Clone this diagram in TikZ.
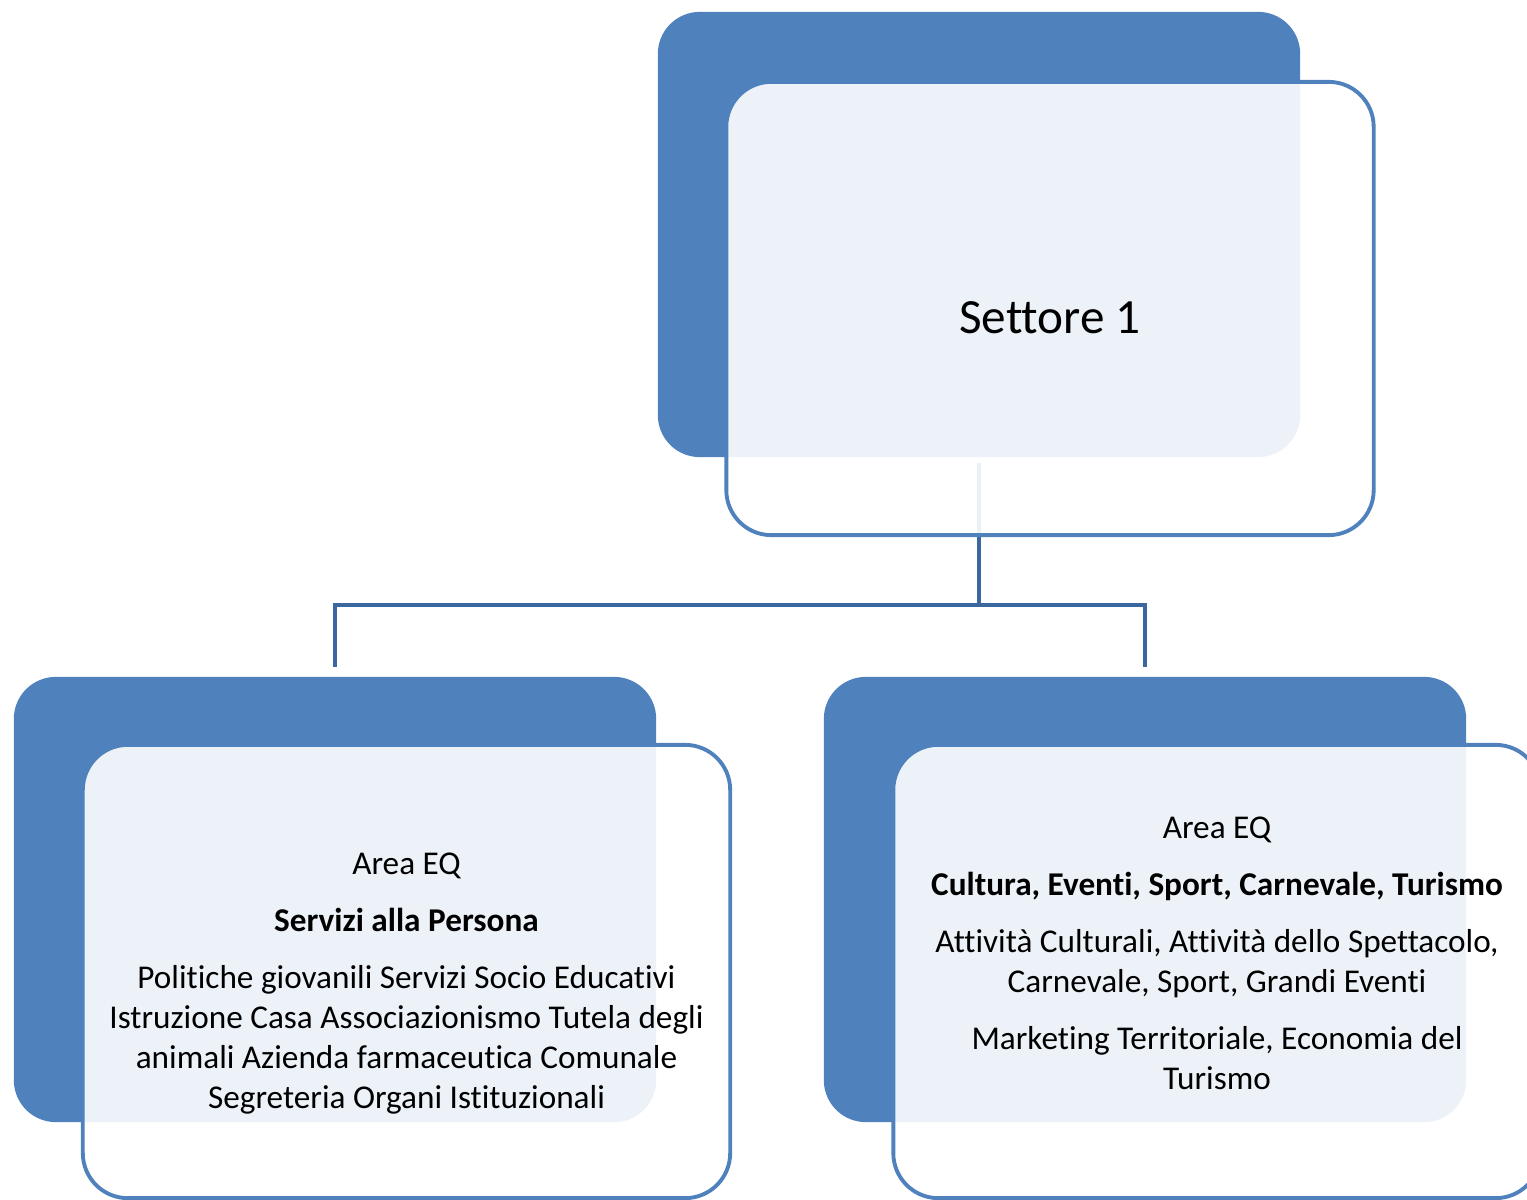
\documentclass[tikz,border=0pt]{standalone}
\usepackage{fontspec}
\setmainfont{Carlito}[Ligatures={NoCommon}]
\usepackage{xcolor}
\usetikzlibrary{positioning}
\definecolor{accblue}{HTML}{4F81BD}
\definecolor{linkblue}{HTML}{3C679E}
\tikzset{
  backbox/.style={rectangle, rounded corners=0.42cm, fill=accblue, inner sep=0pt,
                  minimum width=6.42cm, minimum height=4.45cm},
  frontbox/.style={rectangle, rounded corners=0.45cm, draw=accblue, line width=1.1pt,
                   fill=white, fill opacity=0.9, inner sep=0pt,
                   minimum width=6.47cm, minimum height=4.53cm},
  title/.style={font=\fontsize{14}{17}\selectfont, inner sep=0pt},
  body/.style={font=\fontsize{9.45}{11.4}\selectfont, align=center, inner sep=0pt},
  conn/.style={draw=linkblue, line width=1.1pt},
}

\begin{document}
\begin{tikzpicture}[x=0.01cm, y=-0.01cm]
\clip (0,0) rectangle (1527,1200);
% back boxes
\node[backbox] (setb) at (979,234.5) {};
\node[backbox] (lb) at (335,899.5) {};
\node[backbox] (rb) at (1145,899.5) {};
% tree connector
\coordinate (split) at (979,605);
\draw[conn] ([yshift=-0.05cm]setb.south) -- (split);
\draw[conn] (split) -| ([yshift=0.09cm]lb.north);
\draw[conn] (split) -| ([yshift=0.09cm]rb.north);
% front boxes
\node[frontbox] (setf) at (1050,308.5) {};
\node[frontbox] (lf) at (406.5,971.5) {};
\node[frontbox] (rf) at (1217,971.5) {};
% texts
\node[title] (settxt) at ([yshift=-0.09cm]setf.center) {Settore 1};
\node[body] (ltxt) at ([yshift=-0.12cm]lf.center) {Area EQ\\[4.8pt]
  \textbf{Servizi alla Persona}\\[4.8pt]
  Politiche giovanili Servizi Socio Educativi\\
  Istruzione Casa Associazionismo Tutela degli\\
  animali Azienda farmaceutica Comunale\\
  Segreteria Organi Istituzionali};
\node[body] (rtxt) at ([yshift=0.18cm]rf.center) {Area EQ\\[4.8pt]
  \textbf{Cultura, Eventi, Sport, Carnevale, Turismo}\\[4.8pt]
  Attività Culturali, Attività dello Spettacolo,\\
  Carnevale, Sport, Grandi Eventi\\[4.8pt]
  Marketing Territoriale, Economia del\\
  Turismo};
\end{tikzpicture}
\end{document}
